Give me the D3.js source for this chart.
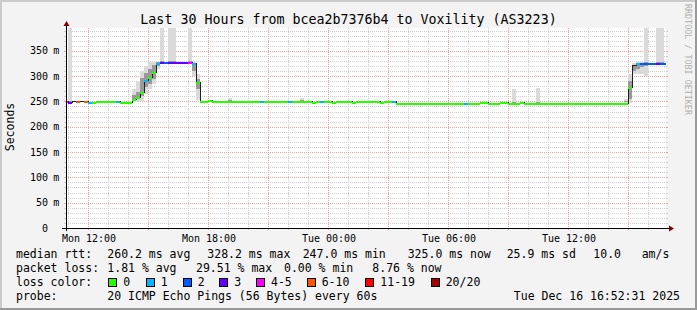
<!DOCTYPE html>
<html>
<head>
<meta charset="utf-8">
<script src="https://cdn.jsdelivr.net/npm/d3@7/dist/d3.min.js"></script>
<style>
  body { margin: 0; background: #fff; }
  svg text { font-family: "DejaVu Sans Mono", monospace; fill: #000; }
</style>
</head>
<body>
<div id="chart"></div>
<script>
// 12 minute consolidated rows, first row starts Mon 10:48
const binStart = new Date(2025, 11, 15, 10, 48);
const binMinutes = 12;
const viewStart = new Date(2025, 11, 15, 10, 52, 31);
const viewEnd = new Date(2025, 11, 16, 16, 52, 31);

// median rtt per row (ms)
const median = [
  250, 249, 250, 251.5, 251.5, 251.5, 249, 249.5, 251.5, 251.5,
  251.5, 251.5, 251.5, 251.5, 248.3, 248.3, 248.3, 254, 258, 268.5,
  292, 299, 308.5, 325, 328.3, 328.3, 328.3, 328.3, 328.3, 328.3,
  328.3, 328.3, 325, 288, 251.4, 251.4, 253.4, 251.4, 251.4, 251.4,
  251.4, 251.4, 251.4, 251.4, 251.4, 251.4, 251.4, 251.4, 251.4, 251.4,
  251.4, 251.4, 251.4, 251.4, 251.4, 251.4, 251.4, 251.4, 251.4, 251.4,
  251.4, 251.4, 249.5, 251.4, 251.4, 251.4, 251.4, 249.5, 251.4, 251.4,
  251.4, 251.4, 249.5, 251.4, 251.4, 251.4, 251.4, 251.4, 251.4, 249.5,
  251.4, 251.4, 251.4, 247.8, 247.8, 247.8, 247.8, 247.8, 247.8, 247.8,
  247.8, 247.8, 247.8, 247.8, 247.8, 247.8, 247.8, 247.8, 247.8, 247.8,
  247.8, 247.8, 247.8, 247.8, 249.5, 249.5, 247.8, 247.8, 247.8, 249.5,
  249.5, 247.8, 247.8, 247.8, 249.5, 247.8, 247.8, 247.8, 247.8, 247.8,
  247.8, 247.8, 247.8, 247.8, 247.8, 247.8, 247.8, 247.8, 247.8, 247.8,
  247.8, 247.8, 247.8, 247.8, 247.8, 247.8, 247.8, 247.8, 247.8, 247.8,
  247.8, 279, 321, 325, 326.5, 326.5, 326.5, 326.5, 326.5, 326.5,
  326.5
];

// lost pings out of 20 per row (null = no colour drawn)
const loss = [
  4, 3, null, 6, null, 6, 1, 0, 0, 0,
  0, 0, 0, 1, 0, 0, 0, 0, 0, 0,
  1, 0, 0, 1, 3, 2, 3, 3, 3, 3,
  3, 4, 1, 0, 0, 0, 0, 0, 0, 0,
  0, 0, 0, 0, 0, 0, 0, 0, 0, 1,
  0, 0, 0, 0, 0, 0, 1, 0, 0, 0,
  0, 0, 0, 0, 1, 0, 0, 0, 0, 0,
  0, 0, 0, 0, 0, 0, 0, 0, 0, 0,
  0, 0, 1, 0, 0, 0, 0, 0, 0, 0,
  0, 0, 0, 0, 0, 0, 0, 0, 0, 0,
  1, 0, 0, 0, 0, 0, 0, 0, 0, 0,
  0, 0, 0, 0, 0, 0, 0, 0, 0, 0,
  0, 0, 0, 0, 0, 0, 0, 0, 0, 0,
  0, 0, 0, 0, 0, 0, 0, 0, 0, 0,
  0, 0, null, 1, 2, 2, 2, 2, 3, 2,
  2
];

// smoke: [row, min, lower, upper, max] in ms
const smoke = [
  [1, 249, 249, 251, 600],
  [17, 248, 252, 262, 275],
  [18, 248, 255, 268, 288],
  [19, 251, 261, 297, 310],
  [20, 265, 278, 307, 320],
  [21, 274, 285, 315, 327],
  [22, 284, 295, 322, 327],
  [23, 314, 320, 327, 328],
  [24, 326, 327, 330, 600],
  [26, 326, 327, 330, 600],
  [27, 326, 327, 330, 600],
  [31, 326, 327, 330, 600],
  [32, 300, 310, 325, 328],
  [33, 253, 275, 295, 305],
  [41, 250, 251, 252, 257],
  [59, 250, 251, 252, 257],
  [112, 247, 247.5, 248.5, 274],
  [118, 247, 247.5, 248.5, 277],
  [140, 247, 248, 250, 255],
  [141, 247, 255, 290, 304],
  [142, 304, 310, 322, 325],
  [143, 304, 315, 325, 327],
  [144, 304, 318, 326, 327],
  [145, 300, 320, 327, 600],
  [148, 326, 326.5, 327, 600],
  [149, 326, 326.5, 327, 600]
];

const lossBands = [
  { label: "0", max: 0, color: "#26ff00" },
  { label: "1", max: 1, color: "#00b8ff" },
  { label: "2", max: 2, color: "#0059ff" },
  { label: "3", max: 3, color: "#6200ff" },
  { label: "4-5", max: 5, color: "#ff00ff" },
  { label: "6-10", max: 10, color: "#ff5500" },
  { label: "11-19", max: 19, color: "#ff0000" },
  { label: "20/20", max: 20, color: "#a10000" }
];

const yMajor = [0, 50, 100, 150, 200, 250, 300, 350];
const titleText = "Last 30 Hours from bcea2b7376b4 to Voxility (AS3223)";
const rttStats = ["260.2 ms avg", "328.2 ms max", "247.0 ms min", "325.0 ms now", "25.9 ms sd", "10.0", "am/s"];
const lossStats = ["1.81 % avg", "29.51 % max", "0.00 % min", "8.76 % now"];
const probeText = "20 ICMP Echo Pings (56 Bytes) every 60s";
const stampText = "Tue Dec 16 16:52:31 2025";

class SmokeChart {
    constructor() {
        this.width = 697;
        this.height = 310;
        this.plot = {left: 66, right: 666, top: 28, bottom: 228};
        this.rowWidth = binMinutes * 60 * 1000;
    }

    rowTime(i) {
        return new Date(binStart.getTime() + i * this.rowWidth);
    }

    render() {
        const p = this.plot;
        const svg = d3.select("#chart").append("svg")
            .attr("width", this.width)
            .attr("height", this.height);

        // background and 3d frame
        svg.append("rect").attr("width", this.width).attr("height", this.height).attr("fill", "#f3f3f3");
        svg.append("rect").attr("width", this.width).attr("height", 2).attr("fill", "#cbcbcb");
        svg.append("rect").attr("width", 2).attr("height", this.height).attr("fill", "#cbcbcb");
        svg.append("rect").attr("y", this.height - 2).attr("width", this.width).attr("height", 2).attr("fill", "#999");
        svg.append("rect").attr("x", this.width - 2).attr("width", 2).attr("height", this.height).attr("fill", "#999");

        svg.append("rect")
            .attr("x", p.left).attr("y", p.top)
            .attr("width", p.right - p.left).attr("height", p.bottom - p.top)
            .attr("fill", "#fff");

        const x = d3.scaleTime().domain([viewStart, viewEnd]).range([p.left, p.right]);
        const y = d3.scaleLinear().domain([0, 395]).range([p.bottom, p.top]);

        svg.append("clipPath").attr("id", "plotclip")
            .append("rect")
            .attr("x", p.left).attr("y", p.top)
            .attr("width", p.right - p.left).attr("height", p.bottom - p.top);

        // grid
        const grid = svg.append("g").attr("shape-rendering", "crispEdges");
        const minorY = d3.range(10, 395, 10).filter(v => v % 50 !== 0);
        const hours = d3.timeHour.range(viewStart, viewEnd);
        const minorX = hours.filter(d => d.getHours() % 3 !== 0);
        const majorX = hours.filter(d => d.getHours() % 3 === 0);

        const hLines = (vals, color) => {
            grid.selectAll(null).data(vals).join("line")
                .attr("x1", p.left).attr("x2", p.right)
                .attr("y1", d => Math.round(y(d)) + 0.5).attr("y2", d => Math.round(y(d)) + 0.5)
                .attr("stroke", color).attr("stroke-dasharray", "1,1");
            grid.selectAll(null).data(vals).join("path")
                .attr("d", d => {
                    const yy = Math.round(y(d)) + 0.5;
                    return `M${p.left - 2},${yy}H${p.left}M${p.right},${yy}H${p.right + 2}`;
                })
                .attr("stroke", color);
        };
        const vLines = (vals, color) => {
            grid.selectAll(null).data(vals).join("line")
                .attr("x1", d => Math.round(x(d)) + 0.5).attr("x2", d => Math.round(x(d)) + 0.5)
                .attr("y1", p.top).attr("y2", p.bottom)
                .attr("stroke", color).attr("stroke-dasharray", "1,1");
            grid.selectAll(null).data(vals).join("line")
                .attr("x1", d => Math.round(x(d)) + 0.5).attr("x2", d => Math.round(x(d)) + 0.5)
                .attr("y1", p.bottom).attr("y2", p.bottom + 2)
                .attr("stroke", color);
        };
        hLines(minorY, "#cfcfcf");
        vLines(minorX, "#cfcfcf");
        hLines(yMajor.filter(v => v > 0), "#f2a0a0");
        vLines(majorX, "#f2a0a0");

        const marks = svg.append("g").attr("clip-path", "url(#plotclip)").attr("shape-rendering", "crispEdges");

        // smoke
        const rowX = i => x(this.rowTime(i));
        const rowW = i => rowX(i + 1) - rowX(i);
        marks.selectAll(".smokeOuter").data(smoke).join("rect")
            .attr("x", d => rowX(d[0])).attr("width", d => rowW(d[0]))
            .attr("y", d => y(d[4])).attr("height", d => y(d[1]) - y(d[4]))
            .attr("fill", "#dadada");
        marks.selectAll(".smokeInner").data(smoke).join("rect")
            .attr("x", d => rowX(d[0])).attr("width", d => rowW(d[0]))
            .attr("y", d => y(d[3])).attr("height", d => y(d[2]) - y(d[3]))
            .attr("fill", "#9a9a9a");

        // median step line
        const pts = median.map((v, i) => [this.rowTime(i), v]);
        pts.push([this.rowTime(median.length), median[median.length - 1]]);
        marks.append("path")
            .attr("d", d3.line().x(d => x(d[0])).y(d => Math.round(y(d[1])) + 0.5).curve(d3.curveStepAfter)(pts))
            .attr("fill", "none").attr("stroke", "#202020").attr("stroke-width", 1);

        // loss coloured segments
        const bandFor = l => lossBands.find(b => l <= b.max);
        marks.selectAll(".seg").data(median.map((v, i) => ({i, v, l: loss[i]})).filter(d => d.l !== null))
            .join("rect")
            .attr("x", d => rowX(d.i)).attr("width", d => rowW(d.i))
            .attr("y", d => Math.round(y(d.v)) - 0.5).attr("height", 2)
            .attr("fill", d => bandFor(d.l).color);

        // axes
        svg.append("path")
            .attr("d", `M${p.left - 4},${p.bottom + 0.5}H${p.right + 4}M${p.left + 0.5},${p.bottom + 3}V${p.top - 3}`)
            .attr("stroke", "#000").attr("shape-rendering", "crispEdges");
        svg.append("path")
            .attr("d", `M${p.right + 3},${p.bottom - 2.5}L${p.right + 8},${p.bottom + 0.5}L${p.right + 3},${p.bottom + 3.5}Z`)
            .attr("fill", "#7f0000");
        svg.append("path")
            .attr("d", `M${p.left - 2.5},${p.top - 2}L${p.left + 0.5},${p.top - 7}L${p.left + 3.5},${p.top - 2}Z`)
            .attr("fill", "#7f0000");

        // y labels
        const yl = svg.append("g").attr("font-size", "10px");
        yl.selectAll(null).data(yMajor).join("text")
            .attr("x", 48).attr("y", d => y(d)).attr("dy", "0.36em")
            .attr("text-anchor", "end").text(d => d);
        yl.selectAll(null).data(yMajor.filter(v => v > 0)).join("text")
            .attr("x", 53.3).attr("y", d => y(d)).attr("dy", "0.36em")
            .text("m");

        // x labels
        const xLabels = d3.timeHour.every(6).range(viewStart, viewEnd);
        svg.append("g").attr("font-size", "10px")
            .selectAll(null).data(xLabels).join("text")
            .attr("x", d => x(d) + 0.5).attr("y", 241.5)
            .attr("text-anchor", "middle")
            .text(d3.timeFormat("%a %H:%M"));

        // titles
        svg.append("text").attr("x", 348.5).attr("y", 24)
            .attr("text-anchor", "middle").attr("font-size", "13.3px").text(titleText);
        svg.append("text").attr("transform", "translate(13.5,127) rotate(-90)")
            .attr("text-anchor", "middle").attr("font-size", "11.5px").text("Seconds");
        svg.append("text").attr("transform", "translate(685,4) rotate(90)")
            .attr("font-size", "8.4px").style("fill", "#b0b0b0").text("RRDTOOL / TOBI OETIKER");

        // legend
        const lg = svg.append("g").attr("font-size", "11.5px");
        const rows = [258.3, 272.3, 286.3, 300.3];
        const rttX = [107.3, 207.3, 302.7, 407.7, 506.7, 593.3, 641.7];
        const lossX = [107.3, 196, 284, 372.3];
        const boxX = [108.3, 145.7, 182.7, 219.3, 256, 306.7, 365.3, 430.7];

        lg.append("text").attr("x", 16).attr("y", rows[0]).text("median rtt:");
        lg.selectAll(null).data(rttStats).join("text")
            .attr("x", (d, i) => rttX[i]).attr("y", rows[0]).text(d => d);

        lg.append("text").attr("x", 16).attr("y", rows[1]).text("packet loss:");
        lg.selectAll(null).data(lossStats).join("text")
            .attr("x", (d, i) => lossX[i]).attr("y", rows[1]).text(d => d);

        lg.append("text").attr("x", 16).attr("y", rows[2]).text("loss color:");
        lg.selectAll(null).data(lossBands).join("rect")
            .attr("x", (d, i) => boxX[i] + 0.5).attr("y", 278.5)
            .attr("width", 8).attr("height", 8)
            .attr("fill", d => d.color).attr("stroke", "#000").attr("shape-rendering", "crispEdges");
        lg.selectAll(null).data(lossBands).join("text")
            .attr("x", (d, i) => boxX[i] + 15).attr("y", rows[2]).text(d => d.label);

        lg.append("text").attr("x", 16).attr("y", rows[3]).text("probe:");
        lg.append("text").attr("x", 107.3).attr("y", rows[3]).text(probeText);
        lg.append("text").attr("x", 680).attr("y", rows[3]).attr("text-anchor", "end").text(stampText);
    }
}

const chart = new SmokeChart();
chart.render();
</script>
</body>
</html>
